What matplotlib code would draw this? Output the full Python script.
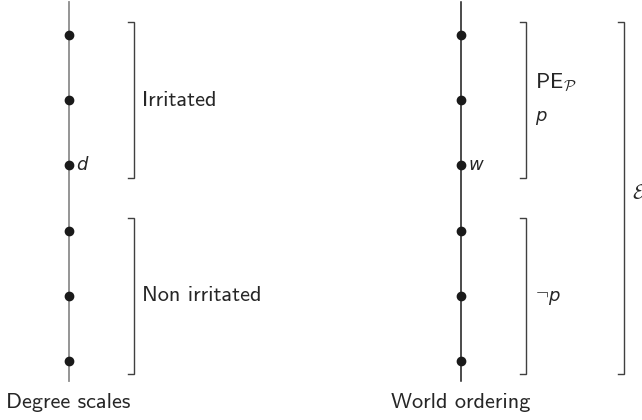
import matplotlib
matplotlib.use("Agg")
import matplotlib.pyplot as plt

plt.rcParams['font.family'] = ['cmss10', 'DejaVu Sans']
plt.rcParams['mathtext.fontset'] = 'cm'
plt.rcParams['axes.unicode_minus'] = False

# six ordered levels on each scale, 1 = top
levels = [1, 2, 3, 4, 5, 6]
groups_left = [("Irritated", 1, 3), ("Non irritated", 4, 6)]
groups_right = [(1, 3), (4, 6)]
big_group = (1, 6)
marked_level = 3
captions = ["Degree scales", "World ordering"]

fig = plt.figure(figsize=(6.42, 4.2), dpi=100)
ax = fig.add_axes([0, 0, 1, 1])
ax.set_xlim(0, 642)
ax.set_ylim(6.905, 0.463)
ax.axis("off")

xl, xr = 69, 461
pad = 0.2
tick = 6
fs = 16
ital = dict(family="DejaVu Sans", style="oblique", fontsize=13, color="0.15")


def bracket(x, top, bot, color="0.25"):
    ax.plot([x - tick, x, x, x - tick], [top - pad, top - pad, bot + pad, bot + pad],
            color=color, lw=1.0, solid_joinstyle="miter")


# scales
ax.plot([xl, xl], [levels[0] - 0.5, levels[-1] + 0.3], color="0.55", lw=1.3, zorder=1)
ax.plot([xr, xr], [levels[0] - 0.5, levels[-1] + 0.3], color="0.1", lw=1.1, zorder=1)
ax.plot([xl] * len(levels), levels, "o", color="0.1", ms=6, zorder=2)
ax.plot([xr] * len(levels), levels, "o", color="0.1", ms=6, zorder=2)

ax.text(xl + 7, marked_level, "d", va="center", ha="left", **ital)
ax.text(xr + 7, marked_level, "w", va="center", ha="left", **ital)

for name, a, b in groups_left:
    bracket(134, a, b)
    ax.text(142, (a + b) / 2, name, fontsize=fs, va="center", ha="left", color="0.15")

for a, b in groups_right:
    bracket(526, a, b)
ax.text(535, 1.74, r"$\mathsf{PE}_{\mathcal{P}}$", fontsize=fs, va="center", ha="left", color="0.15")
ax.text(535, 2.24, "p", va="center", ha="left", **ital)
ax.text(535, 4.95, r"$\neg$", fontsize=14, va="center", ha="left", color="0.15")
ax.text(548, 5.0, "p", va="center", ha="left", **ital)

bracket(624, big_group[0], big_group[1])
ax.text(632, (big_group[0] + big_group[1]) / 2 - 0.07, r"$\mathcal{E}$", fontsize=15,
        va="center", ha="left", color="0.15")

ax.text(68, 6.63, captions[0], fontsize=fs, va="center", ha="center", color="0.15")
ax.text(461, 6.63, captions[1], fontsize=fs, va="center", ha="center", color="0.15")

fig.savefig("out.png", dpi=100)
